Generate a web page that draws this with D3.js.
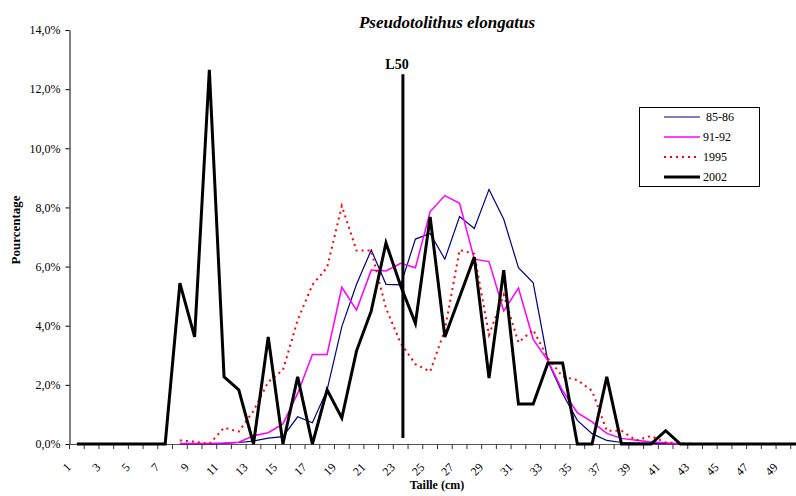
<!DOCTYPE html>
<html><head><meta charset="utf-8">
<script src="https://cdn.jsdelivr.net/npm/d3@7"></script>
<style>body{margin:0;background:#fff}svg{display:block}text{font-family:"Liberation Serif","Times New Roman",serif}</style>
</head><body><div id="chart"></div>
<script>
const categories = d3.range(1, 51);
const yTicks = [0, 2, 4, 6, 8, 10, 12, 14];
const seriesNames = ["85-86", "91-92", "1995", "2002"];
const s8586 = [null,null,null,null,null,null,null,0,0,0,0.02,0.05,0.1,0.2,0.25,0.92,0.72,1.83,3.97,5.4,6.56,5.4,5.38,6.93,7.12,6.25,7.69,7.29,8.61,7.6,5.96,5.45,2.8,1.7,0.8,0.35,0.12,0.05,0.03,0.02,0.01,0,0,0,0,0,0,0,0,0];
const s9192 = [null,null,null,null,null,null,null,0.02,0.02,0.02,0.03,0.06,0.28,0.38,0.68,1.71,3.03,3.03,5.3,4.53,5.88,5.85,6.11,5.96,7.86,8.4,8.14,6.25,6.17,4.5,5.27,3.54,2.82,1.8,1.06,0.75,0.36,0.19,0.13,0.07,0.04,0,0,0,0,0,0,0,0,0];
const s1995 = [null,null,null,null,null,null,null,0.12,0.08,0,0.55,0.42,1.12,2.1,2.5,4.19,5.38,5.97,8.05,6.54,6.54,4.59,3.41,2.7,2.45,3.86,6.56,6.43,3.69,5.04,3.43,3.86,2.9,2.28,2.16,1.8,0.45,0.45,0.12,0.27,0.05,0.03,0,0,0,0,0,0,0,0];
const s2002 = [0,0,0,0,0,0,0,5.44,3.62,12.65,2.27,1.83,0,3.62,0,2.27,0,1.83,0.88,3.15,4.5,6.8,5.34,4.08,7.68,3.62,4.97,6.32,2.23,5.88,1.35,1.35,2.74,2.74,0,0,2.27,0,0,0,0.45,0,0,0,0,0,0,0,0,0];
const xLabels = categories.filter(c => c % 2 === 1);
const L50 = 23.15;
const L50range = [0.2, 12.5];

const W = 796, H = 496;
const svg = d3.select("#chart").append("svg").attr("width", W).attr("height", H);
const x = d3.scaleBand().domain(categories).range([69.5, 69.5 + 50 * 14.72]).padding(0);
const y = d3.scaleLinear().domain([0, 14]).range([444, 30]);
const cx = c => x(c) + x.bandwidth() / 2;
const xLin = v => 69.5 + (v - 0.5) * x.bandwidth();

// title
svg.append("text").attr("x", 447).attr("y", 28).attr("text-anchor", "middle")
  .attr("font-size", 17).attr("font-weight", "bold").attr("font-style", "italic").text("Pseudotolithus elongatus");

// y axis
const yAxis = d3.axisLeft(y).tickValues(yTicks).tickSize(4).tickSizeOuter(0)
  .tickFormat(d => d.toFixed(1).replace(".", ",") + "%");
const gy = svg.append("g").attr("transform", "translate(69.5,0)").call(yAxis);
gy.selectAll("text").attr("font-size", 12).attr("font-family", "Liberation Serif").attr("dx", -2);
gy.select(".domain").attr("stroke", "#000");

// x axis line
svg.append("line").attr("x1", 69.5).attr("x2", 796).attr("y1", 444.5).attr("y2", 444.5).attr("stroke", "#555");
// tick marks at category boundaries
svg.append("g").selectAll("line").data(categories.concat([51]).filter(d => xLin(d - 0.5) <= 796)).join("line")
  .attr("x1", d => xLin(d - 0.5)).attr("x2", d => xLin(d - 0.5))
  .attr("y1", 444.5).attr("y2", 449).attr("stroke", "#333").attr("stroke-width", 1);
// rotated labels
svg.append("g").selectAll("text").data(xLabels).join("text")
  .attr("transform", d => `translate(${cx(d) - 5},468) rotate(-45)`)
  .attr("text-anchor", "end").attr("font-size", 12).text(d => d);

// axis titles
svg.append("text").attr("x", 437).attr("y", 489).attr("text-anchor", "middle")
  .attr("font-size", 12).attr("font-weight", "bold").text("Taille (cm)");
svg.append("text").attr("transform", "translate(20,230) rotate(-90)").attr("text-anchor", "middle")
  .attr("font-size", 13).attr("font-weight", "bold").text("Pourcentage");

const line = d3.line().defined(d => d.v !== null).x(d => cx(d.c)).y(d => y(d.v));
const mk = arr => categories.map((c, i) => ({ c, v: arr[i] }));
const styles = [
  { data: s8586, color: "#000080", w: 1.2, dash: null },
  { data: s9192, color: "#ff00ff", w: 1.5, dash: null },
  { data: s1995, color: "#ff0000", w: 2, dash: "2,4" },
  { data: s2002, color: "#000000", w: 3, dash: null }
];
const plot = svg.append("g");
styles.forEach(s => {
  plot.append("path").datum(mk(s.data)).attr("d", line).attr("fill", "none")
    .attr("stroke", s.color).attr("stroke-width", s.w).attr("stroke-dasharray", s.dash)
    .attr("stroke-linejoin", "miter");
});

// L50
svg.append("line").attr("x1", xLin(L50)).attr("x2", xLin(L50)).attr("y1", y(L50range[0])).attr("y2", y(L50range[1]))
  .attr("stroke", "#000").attr("stroke-width", 3);
svg.append("text").attr("x", 397).attr("y", 69).attr("text-anchor", "middle")
  .attr("font-size", 14).attr("font-weight", "bold").text("L50");

// legend
const lg = svg.append("g");
lg.append("rect").attr("x", 639.5).attr("y", 107.5).attr("width", 120).attr("height", 79)
  .attr("fill", "#fff").attr("stroke", "#000").attr("stroke-width", 1);
seriesNames.forEach((n, i) => {
  const yy = 117 + i * 20;
  lg.append("line").attr("x1", 664).attr("x2", 700).attr("y1", yy).attr("y2", yy)
    .attr("stroke", styles[i].color).attr("stroke-width", styles[i].w).attr("stroke-dasharray", styles[i].dash);
  lg.append("text").attr("x", i === 0 ? 706 : 703).attr("y", yy + 4).attr("font-size", 12).text(n);
});
</script></body></html>
